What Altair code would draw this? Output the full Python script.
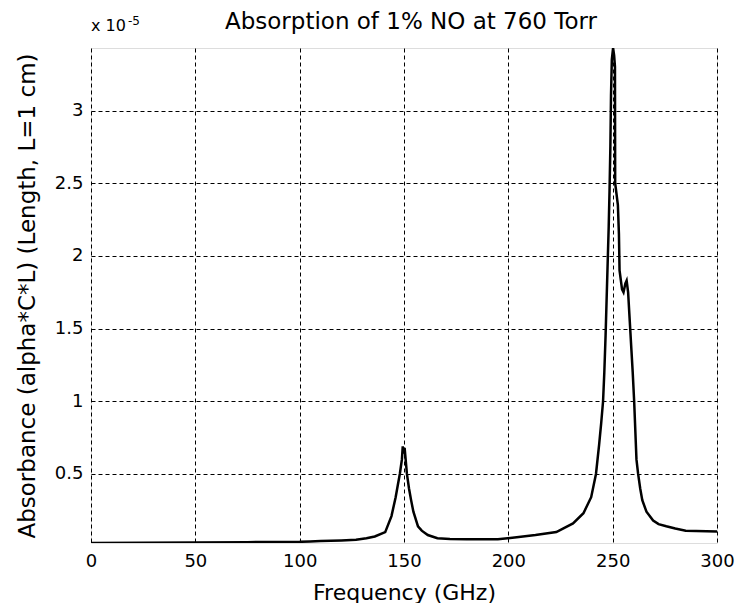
import altair as alt
import pandas as pd

# Frequency (GHz)
freq_ghz = [0, 25, 50, 75, 100, 105, 110, 120, 127, 132, 136, 141, 144, 146, 147, 148, 149,
            149.4, 149.8, 150.3, 151.4, 152.4, 153.4, 154.5, 156.7, 158.5, 161.4, 166, 172, 180,
            190, 195, 204, 213, 223, 231, 236, 239.7, 242, 243.5, 244.5, 245.4, 246.0, 246.6,
            247.1, 247.6, 248.1, 248.5, 248.9, 249.2, 249.6, 250.2, 250.7, 251.1, 251.2, 252.5,
            253.0, 253.3, 254.5, 255.2, 256.1, 256.7, 257.4, 258.2, 259.0, 259.6, 260.3, 261.4,
            262.2, 263.2, 264.2, 266.2, 269.4, 272, 275.7, 280, 285, 290, 295, 300]
# Absorbance in units of 1e-5
absorbance_e5 = [0.025, 0.027, 0.029, 0.031, 0.033, 0.036, 0.038, 0.043, 0.048, 0.058, 0.07, 0.10,
                 0.21, 0.34, 0.42, 0.50, 0.60,
                 0.69, 0.64, 0.68, 0.50, 0.40, 0.32, 0.24, 0.14, 0.11, 0.08, 0.058, 0.053, 0.05,
                 0.05, 0.05, 0.065, 0.08, 0.10, 0.16, 0.23, 0.34, 0.50, 0.70, 0.85, 1.0, 1.2, 1.45,
                 1.7, 1.95, 2.2, 2.45, 2.75, 3.1, 3.35, 3.43, 3.38, 3.3, 2.5, 2.35,
                 2.15, 1.9, 1.77, 1.75, 1.81, 1.83, 1.75, 1.55, 1.35, 1.2, 1.0, 0.6,
                 0.5, 0.4, 0.32, 0.24, 0.18, 0.155, 0.14, 0.125, 0.11, 0.107, 0.105, 0.104]

x_ticks = [0, 50, 100, 150, 200, 250, 300]
y_ticks = [0.5, 1, 1.5, 2, 2.5, 3]

df = pd.DataFrame({"freq": freq_ghz, "abs": absorbance_e5})

FONT = "DejaVu Sans"
W, H = 626, 495

line = alt.Chart(df).mark_line(color="black", strokeWidth=2.5, clip=True).encode(
    x=alt.X("freq:Q",
            scale=alt.Scale(domain=[0, 300], nice=False, zero=False),
            axis=alt.Axis(values=x_ticks, title="Frequency (GHz)", format="d",
                          labelFont=FONT, labelFontSize=18, labelColor="black", labelPadding=9,
                          labelFlush=False,
                          titleFont=FONT, titleFontSize=22, titleFontWeight="normal",
                          titleColor="black", titleX=W / 2, titleY=49,
                          titleBaseline="middle", titleAlign="center",
                          grid=True, gridColor="black", gridDash=[4, 3], gridOpacity=1,
                          gridWidth=1, ticks=False, domain=False)),
    y=alt.Y("abs:Q",
            scale=alt.Scale(domain=[0.025, 3.43], nice=False, zero=False),
            axis=alt.Axis(values=y_ticks, title="Absorbance (alpha*C*L) (Length, L=1 cm)",
                          format="~g", labelFlush=False,
                          labelFont=FONT, labelFontSize=18, labelColor="black", labelPadding=8,
                          titleFont=FONT, titleFontSize=23, titleFontWeight="normal",
                          titleColor="black", titleX=-64, titleY=H / 2, titleAngle=-90,
                          titleBaseline="middle", titleAlign="center",
                          grid=True, gridColor="black", gridDash=[4, 3], gridOpacity=1,
                          gridWidth=1, ticks=False, domain=False)),
)

title = alt.Chart(pd.DataFrame({"t": ["Absorption of 1% NO at 760 Torr"]})).mark_text(
    font=FONT, fontSize=23, color="black", align="center", baseline="middle"
).encode(text="t:N", x=alt.value(320), y=alt.value(-26))

mult = alt.Chart(pd.DataFrame({"t": ["x 10"]})).mark_text(
    font=FONT, fontSize=16, color="black", align="left", baseline="alphabetic"
).encode(text="t:N", x=alt.value(0), y=alt.value(-17))

sup = alt.Chart(pd.DataFrame({"t": ["-5"]})).mark_text(
    font=FONT, fontSize=12, color="black", align="left", baseline="alphabetic"
).encode(text="t:N", x=alt.value(37), y=alt.value(-23))

chart = alt.layer(line, title, mult, sup).properties(
    width=W, height=H,
    autosize=alt.AutoSizeParams(type="none"),
    padding={"left": 83, "top": 40, "right": 18, "bottom": 60},
).configure_view(stroke="black", strokeWidth=1).configure(background="white")

chart.save("out.html", embed_options={"renderer": "svg", "actions": False})
